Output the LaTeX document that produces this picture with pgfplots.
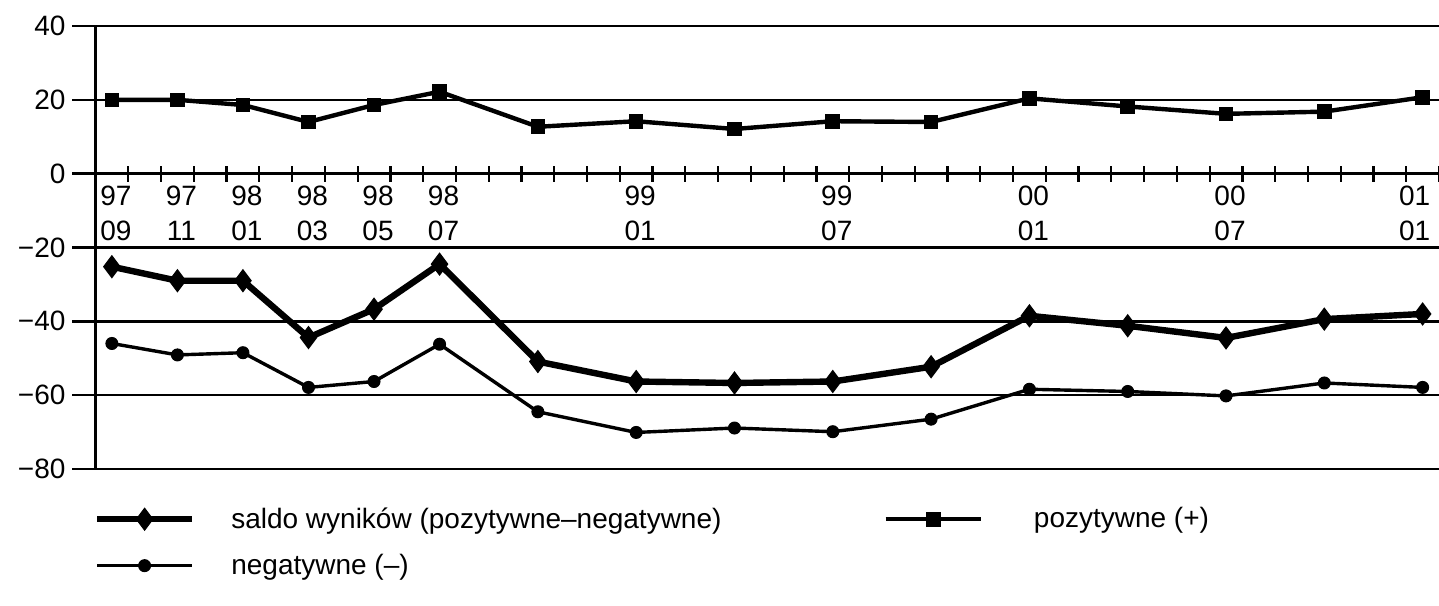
\documentclass[border=0pt]{standalone}
\usepackage{fontspec}
\setmainfont{Liberation Sans}
\usepackage{pgfplots}
\pgfplotsset{compat=1.18}
\pgfplotstableread{
x saldo poz neg
0 -25.2 20.0 -46.0
2 -29.0 20.0 -49.1
4 -29.0 18.6 -48.5
6 -44.4 14.0 -57.9
8 -36.7 18.6 -56.3
10 -24.5 22.2 -46.2
13 -50.9 12.7 -64.5
16 -56.3 14.2 -70.1
19 -56.7 12.1 -68.9
22 -56.3 14.2 -69.9
25 -52.3 14.0 -66.5
28 -38.5 20.4 -58.4
31 -41.2 18.2 -59.0
34 -44.5 16.2 -60.2
37 -39.4 16.8 -56.7
40 -38.0 20.7 -57.9
}\datatable
\begin{document}
\begin{tikzpicture}
\path[use as bounding box] (-47.75pt,-68pt) rectangle (671.75pt,234.5pt);
\begin{axis}[
  at={(0pt,0pt)}, anchor=south west,
  scale only axis, width=671.75pt, height=221.5pt,
  xmin=-0.5, xmax=40.5, ymin=-80, ymax=40,
  axis x line*=middle, axis y line*=left,
  axis line style={line width=1.2pt, -},
  font=\fontsize{14}{17.5}\selectfont,
  ytick={-80,-60,-40,-20,0,20,40},
  yticklabels={−80,−60,−40,−20,0,20,40},
  ytick align=outside,
  major tick length=11.5pt,
  ymajorgrids,
  major grid style={black, line width=1.2pt},
  y tick style={black, line width=1.2pt},
  xtick={0,2,4,6,8,10,16,22,28,34},
  xticklabels={97\\09,97\\11,98\\01,98\\03,98\\05,98\\07,99\\01,99\\07,00\\01,00\\07},
  xticklabel style={align=center, yshift=3pt, xshift=2pt},
  extra x ticks={40},
  extra x tick labels={01\\01},
  extra x tick style={tick style={draw=none}, xticklabel style={xshift=-6pt}},
  major x tick style={draw=none},
  minor xtick={-0.5,0.5,...,40.5},
  minor tick length=8pt,
  xtick align=center,
  minor x tick style={black, line width=1.1pt},
  legend columns=2,
  legend style={draw=none, fill=none, at={(axis description cs:0,0)}, anchor=north west,
    xshift=-4pt, yshift=-15pt, font=\fontsize{14}{17.5}\selectfont,
    /tikz/every odd column/.style={column sep=16pt},
    /tikz/every even column/.style={column sep=79pt},
    row sep=7.5pt},
  legend cell align=left,
  legend image code/.code={\draw[mark repeat=2,mark phase=2,#1] plot coordinates {(0pt,0pt) (23.75pt,0pt) (47.5pt,0pt)};},
]
\addplot[black, line width=3.2pt, mark=diamond*, mark size=5.5pt, mark options={line width=0.5pt, solid}] table[x=x, y=saldo] {\datatable};
\addlegendentry{saldo wyników (pozytywne–negatywne)}
\addplot[black, line width=2.2pt, mark=square*, mark size=3.4pt, mark options={line width=0.5pt, solid}] table[x=x, y=poz] {\datatable};
\addlegendentry{\hspace*{7.5pt}pozytywne (+)}
\addplot[black, line width=1.7pt, mark=*, mark size=3pt, mark options={line width=0.5pt, solid}] table[x=x, y=neg] {\datatable};
\addlegendentry{negatywne (–)}
\end{axis}
\end{tikzpicture}
\end{document}
